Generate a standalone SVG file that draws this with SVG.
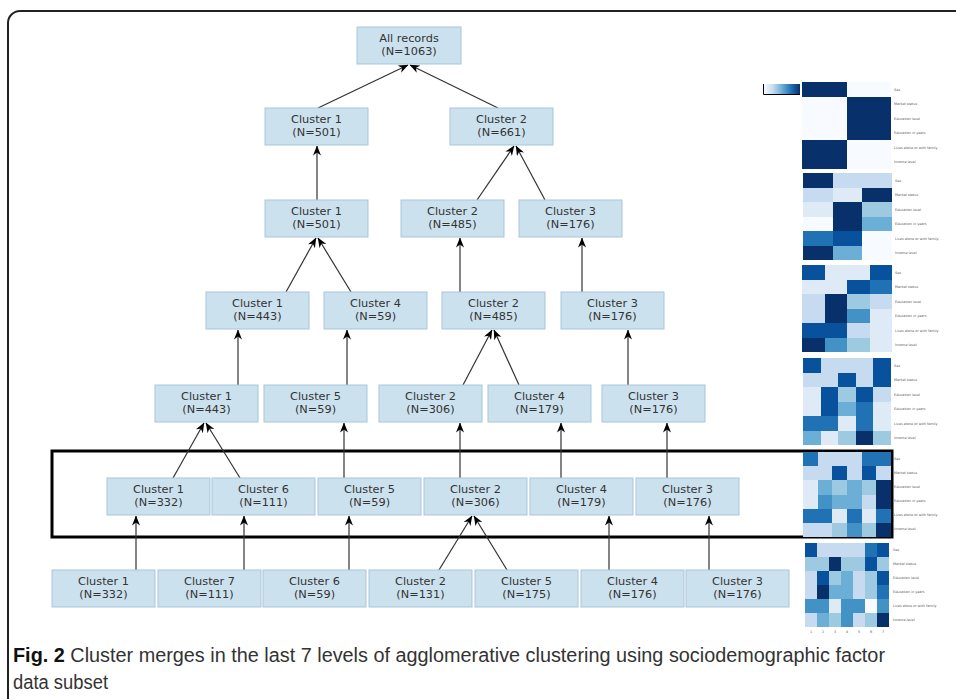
<svg xmlns="http://www.w3.org/2000/svg" width="956" height="699" viewBox="0 0 956 699">
<defs>
<marker id="ah" markerWidth="10" markerHeight="8" refX="9.5" refY="4" orient="auto" markerUnits="userSpaceOnUse">
<path d="M0,0 L10,4 L0,8 L3,4 z" fill="#000"/>
</marker>
<linearGradient id="cb" x1="0" x2="1" y1="0" y2="0">
<stop offset="0" stop-color="#f7fbff"/><stop offset="0.25" stop-color="#c6dbef"/><stop offset="0.5" stop-color="#6baed6"/><stop offset="0.75" stop-color="#2171b5"/><stop offset="1" stop-color="#08306b"/>
</linearGradient>
</defs>
<style>
.box{fill:#cce1ee;stroke:#a9c5d9;stroke-width:1}
.t{font-family:"DejaVu Sans",Verdana,sans-serif;font-size:11.3px;fill:#333;text-anchor:middle}
.c line{stroke:#333;stroke-width:1.2;marker-end:url(#ah)}
.a{fill:#f7fbff}.b{fill:#deebf7}.c1{fill:#c6dbef}.d{fill:#9ecae1}.e{fill:#6baed6}.f{fill:#4292c6}.g{fill:#2171b5}.h{fill:#08519c}.i{fill:#08306b}
.lab{font-family:"DejaVu Sans",sans-serif;font-size:3.4px;fill:#555}
.cap{font-family:"Liberation Sans",Arial,sans-serif;font-size:20px;fill:#333}
</style>
<rect x="0" y="0" width="956" height="699" fill="#fff"/>
<rect x="8" y="11" width="1000" height="730" rx="12" fill="none" stroke="#222" stroke-width="2"/>

<!-- highlight rectangle -->
<rect x="52" y="451" width="840" height="86" fill="none" stroke="#000" stroke-width="3"/>

<g class="c" id="connectors">
<line x1="318" y1="108" x2="408" y2="65"/>
<line x1="498" y1="108" x2="410" y2="65"/>
<line x1="317" y1="200" x2="317" y2="146"/>
<line x1="477" y1="200" x2="514" y2="146"/>
<line x1="545" y1="200" x2="516" y2="146"/>
<line x1="286" y1="292" x2="316" y2="238"/>
<line x1="351" y1="292" x2="318" y2="238"/>
<line x1="460" y1="292" x2="460" y2="238"/>
<line x1="582" y1="292" x2="582" y2="238"/>
<line x1="238" y1="385" x2="238" y2="330"/>
<line x1="347" y1="385" x2="347" y2="330"/>
<line x1="463" y1="385" x2="492" y2="330"/>
<line x1="519" y1="385" x2="494" y2="330"/>
<line x1="628" y1="385" x2="628" y2="330"/>
<line x1="173" y1="478" x2="204" y2="423"/>
<line x1="240" y1="478" x2="206" y2="423"/>
<line x1="344" y1="478" x2="344" y2="423"/>
<line x1="460" y1="478" x2="460" y2="423"/>
<line x1="561" y1="478" x2="561" y2="423"/>
<line x1="667" y1="478" x2="667" y2="423"/>
<line x1="136" y1="570" x2="136" y2="516"/>
<line x1="244" y1="570" x2="244" y2="516"/>
<line x1="349" y1="570" x2="349" y2="516"/>
<line x1="439" y1="570" x2="472" y2="516"/>
<line x1="507" y1="570" x2="474" y2="516"/>
<line x1="609" y1="570" x2="609" y2="516"/>
<line x1="709" y1="570" x2="709" y2="516"/>
</g>

<g id="n0"><rect class="box" x="357" y="27" width="104" height="37"/><text class="t" x="409" y="42">All records</text><text class="t" x="409" y="55">(N=1063)</text></g>

<g id="n1a"><rect class="box" x="265" y="108" width="103" height="37"/><text class="t" x="316.5" y="123">Cluster 1</text><text class="t" x="316.5" y="136">(N=501)</text></g>
<g id="n1b"><rect class="box" x="450" y="108" width="103" height="37"/><text class="t" x="501.5" y="123">Cluster 2</text><text class="t" x="501.5" y="136">(N=661)</text></g>

<g id="n2a"><rect class="box" x="265" y="200" width="103" height="37"/><text class="t" x="316.5" y="215">Cluster 1</text><text class="t" x="316.5" y="228">(N=501)</text></g>
<g id="n2b"><rect class="box" x="401" y="200" width="103" height="37"/><text class="t" x="452.5" y="215">Cluster 2</text><text class="t" x="452.5" y="228">(N=485)</text></g>
<g id="n2c"><rect class="box" x="519" y="200" width="103" height="37"/><text class="t" x="570.5" y="215">Cluster 3</text><text class="t" x="570.5" y="228">(N=176)</text></g>

<g id="n3a"><rect class="box" x="206" y="292" width="103" height="37"/><text class="t" x="257.5" y="307">Cluster 1</text><text class="t" x="257.5" y="320">(N=443)</text></g>
<g id="n3b"><rect class="box" x="324" y="292" width="103" height="37"/><text class="t" x="375.5" y="307">Cluster 4</text><text class="t" x="375.5" y="320">(N=59)</text></g>
<g id="n3c"><rect class="box" x="442" y="292" width="103" height="37"/><text class="t" x="493.5" y="307">Cluster 2</text><text class="t" x="493.5" y="320">(N=485)</text></g>
<g id="n3d"><rect class="box" x="561" y="292" width="103" height="37"/><text class="t" x="612.5" y="307">Cluster 3</text><text class="t" x="612.5" y="320">(N=176)</text></g>

<g id="n4a"><rect class="box" x="155" y="385" width="103" height="37"/><text class="t" x="206.5" y="400">Cluster 1</text><text class="t" x="206.5" y="413">(N=443)</text></g>
<g id="n4b"><rect class="box" x="264" y="385" width="103" height="37"/><text class="t" x="315.5" y="400">Cluster 5</text><text class="t" x="315.5" y="413">(N=59)</text></g>
<g id="n4c"><rect class="box" x="379" y="385" width="103" height="37"/><text class="t" x="430.5" y="400">Cluster 2</text><text class="t" x="430.5" y="413">(N=306)</text></g>
<g id="n4d"><rect class="box" x="488" y="385" width="103" height="37"/><text class="t" x="539.5" y="400">Cluster 4</text><text class="t" x="539.5" y="413">(N=179)</text></g>
<g id="n4e"><rect class="box" x="602" y="385" width="103" height="37"/><text class="t" x="653.5" y="400">Cluster 3</text><text class="t" x="653.5" y="413">(N=176)</text></g>

<g id="n5a"><rect class="box" x="107" y="478" width="103" height="37"/><text class="t" x="158.5" y="493">Cluster 1</text><text class="t" x="158.5" y="506">(N=332)</text></g>
<g id="n5b"><rect class="box" x="212" y="478" width="103" height="37"/><text class="t" x="263.5" y="493">Cluster 6</text><text class="t" x="263.5" y="506">(N=111)</text></g>
<g id="n5c"><rect class="box" x="318" y="478" width="103" height="37"/><text class="t" x="369.5" y="493">Cluster 5</text><text class="t" x="369.5" y="506">(N=59)</text></g>
<g id="n5d"><rect class="box" x="424" y="478" width="103" height="37"/><text class="t" x="475.5" y="493">Cluster 2</text><text class="t" x="475.5" y="506">(N=306)</text></g>
<g id="n5e"><rect class="box" x="530" y="478" width="103" height="37"/><text class="t" x="581.5" y="493">Cluster 4</text><text class="t" x="581.5" y="506">(N=179)</text></g>
<g id="n5f"><rect class="box" x="636" y="478" width="103" height="37"/><text class="t" x="687.5" y="493">Cluster 3</text><text class="t" x="687.5" y="506">(N=176)</text></g>

<g id="n6a"><rect class="box" x="52" y="570" width="103" height="37"/><text class="t" x="103.5" y="585">Cluster 1</text><text class="t" x="103.5" y="598">(N=332)</text></g>
<g id="n6b"><rect class="box" x="158" y="570" width="103" height="37"/><text class="t" x="209.5" y="585">Cluster 7</text><text class="t" x="209.5" y="598">(N=111)</text></g>
<g id="n6c"><rect class="box" x="263" y="570" width="103" height="37"/><text class="t" x="314.5" y="585">Cluster 6</text><text class="t" x="314.5" y="598">(N=59)</text></g>
<g id="n6d"><rect class="box" x="369" y="570" width="103" height="37"/><text class="t" x="420.5" y="585">Cluster 2</text><text class="t" x="420.5" y="598">(N=131)</text></g>
<g id="n6e"><rect class="box" x="475" y="570" width="103" height="37"/><text class="t" x="526.5" y="585">Cluster 5</text><text class="t" x="526.5" y="598">(N=175)</text></g>
<g id="n6f"><rect class="box" x="581" y="570" width="103" height="37"/><text class="t" x="632.5" y="585">Cluster 4</text><text class="t" x="632.5" y="598">(N=176)</text></g>
<g id="n6g"><rect class="box" x="686" y="570" width="103" height="37"/><text class="t" x="737.5" y="585">Cluster 3</text><text class="t" x="737.5" y="598">(N=176)</text></g>

<!-- colorbar -->
<g id="colorbar">
<rect x="764" y="84" width="36" height="10" fill="url(#cb)"/>
<path d="M763.5,84 V94.5 H800" fill="none" stroke="#000" stroke-width="1"/>
</g>

<!-- heatmaps -->
<g id="hm1" transform="translate(802,82) scale(44.5,14.5)" shape-rendering="crispEdges">
<rect class="i" x="0" y="0" width="1" height="1"/><rect class="a" x="1" y="0" width="1" height="1"/>
<rect class="a" x="0" y="1" width="1" height="1"/><rect class="i" x="1" y="1" width="1" height="1"/>
<rect class="a" x="0" y="2" width="1" height="1"/><rect class="i" x="1" y="2" width="1" height="1"/>
<rect class="a" x="0" y="3" width="1" height="1"/><rect class="i" x="1" y="3" width="1" height="1"/>
<rect class="i" x="0" y="4" width="1" height="1"/><rect class="a" x="1" y="4" width="1" height="1"/>
<rect class="i" x="0" y="5" width="1" height="1"/><rect class="a" x="1" y="5" width="1" height="1"/>
</g>
<g id="hm2" transform="translate(803,173) scale(29.667,14.5)" shape-rendering="crispEdges">
<rect class="i" x="0" y="0" width="1" height="1"/><rect class="c1" x="1" y="0" width="1" height="1"/><rect class="c1" x="2" y="0" width="1" height="1"/>
<rect class="c1" x="0" y="1" width="1" height="1"/><rect class="b" x="1" y="1" width="1" height="1"/><rect class="i" x="2" y="1" width="1" height="1"/>
<rect class="b" x="0" y="2" width="1" height="1"/><rect class="i" x="1" y="2" width="1" height="1"/><rect class="d" x="2" y="2" width="1" height="1"/>
<rect class="a" x="0" y="3" width="1" height="1"/><rect class="i" x="1" y="3" width="1" height="1"/><rect class="e" x="2" y="3" width="1" height="1"/>
<rect class="g" x="0" y="4" width="1" height="1"/><rect class="h" x="1" y="4" width="1" height="1"/><rect class="a" x="2" y="4" width="1" height="1"/>
<rect class="i" x="0" y="5" width="1" height="1"/><rect class="e" x="1" y="5" width="1" height="1"/><rect class="a" x="2" y="5" width="1" height="1"/>
</g>
<g id="hm3" transform="translate(802,265) scale(22.5,14.5)" shape-rendering="crispEdges">
<rect class="h" x="0" y="0" width="1" height="1"/><rect class="b" x="1" y="0" width="1" height="1"/><rect class="b" x="2" y="0" width="1" height="1"/><rect class="h" x="3" y="0" width="1" height="1"/>
<rect class="b" x="0" y="1" width="1" height="1"/><rect class="b" x="1" y="1" width="1" height="1"/><rect class="h" x="2" y="1" width="1" height="1"/><rect class="g" x="3" y="1" width="1" height="1"/>
<rect class="c1" x="0" y="2" width="1" height="1"/><rect class="i" x="1" y="2" width="1" height="1"/><rect class="d" x="2" y="2" width="1" height="1"/><rect class="c1" x="3" y="2" width="1" height="1"/>
<rect class="c1" x="0" y="3" width="1" height="1"/><rect class="i" x="1" y="3" width="1" height="1"/><rect class="f" x="2" y="3" width="1" height="1"/><rect class="b" x="3" y="3" width="1" height="1"/>
<rect class="h" x="0" y="4" width="1" height="1"/><rect class="h" x="1" y="4" width="1" height="1"/><rect class="c1" x="2" y="4" width="1" height="1"/><rect class="b" x="3" y="4" width="1" height="1"/>
<rect class="i" x="0" y="5" width="1" height="1"/><rect class="f" x="1" y="5" width="1" height="1"/><rect class="d" x="2" y="5" width="1" height="1"/><rect class="b" x="3" y="5" width="1" height="1"/>
</g>
<g id="hm4" transform="translate(803,358) scale(17.6,14.5)" shape-rendering="crispEdges">
<rect class="h" x="0" y="0" width="1" height="1"/><rect class="c1" x="1" y="0" width="1" height="1"/><rect class="c1" x="2" y="0" width="1" height="1"/><rect class="c1" x="3" y="0" width="1" height="1"/><rect class="h" x="4" y="0" width="1" height="1"/>
<rect class="c1" x="0" y="1" width="1" height="1"/><rect class="c1" x="1" y="1" width="1" height="1"/><rect class="h" x="2" y="1" width="1" height="1"/><rect class="c1" x="3" y="1" width="1" height="1"/><rect class="h" x="4" y="1" width="1" height="1"/>
<rect class="b" x="0" y="2" width="1" height="1"/><rect class="h" x="1" y="2" width="1" height="1"/><rect class="d" x="2" y="2" width="1" height="1"/><rect class="h" x="3" y="2" width="1" height="1"/><rect class="c1" x="4" y="2" width="1" height="1"/>
<rect class="b" x="0" y="3" width="1" height="1"/><rect class="h" x="1" y="3" width="1" height="1"/><rect class="e" x="2" y="3" width="1" height="1"/><rect class="g" x="3" y="3" width="1" height="1"/><rect class="b" x="4" y="3" width="1" height="1"/>
<rect class="g" x="0" y="4" width="1" height="1"/><rect class="g" x="1" y="4" width="1" height="1"/><rect class="b" x="2" y="4" width="1" height="1"/><rect class="g" x="3" y="4" width="1" height="1"/><rect class="b" x="4" y="4" width="1" height="1"/>
<rect class="e" x="0" y="5" width="1" height="1"/><rect class="b" x="1" y="5" width="1" height="1"/><rect class="d" x="2" y="5" width="1" height="1"/><rect class="i" x="3" y="5" width="1" height="1"/><rect class="d" x="4" y="5" width="1" height="1"/>
</g>
<g id="hm5" transform="translate(803,452) scale(14.667,14.17)" shape-rendering="crispEdges">
<rect class="g" x="0" y="0" width="1" height="1"/><rect class="c1" x="1" y="0" width="1" height="1"/><rect class="c1" x="2" y="0" width="1" height="1"/><rect class="c1" x="3" y="0" width="1" height="1"/><rect class="g" x="4" y="0" width="1" height="1"/><rect class="g" x="5" y="0" width="1" height="1"/>
<rect class="c1" x="0" y="1" width="1" height="1"/><rect class="c1" x="1" y="1" width="1" height="1"/><rect class="h" x="2" y="1" width="1" height="1"/><rect class="c1" x="3" y="1" width="1" height="1"/><rect class="h" x="4" y="1" width="1" height="1"/><rect class="c1" x="5" y="1" width="1" height="1"/>
<rect class="b" x="0" y="2" width="1" height="1"/><rect class="e" x="1" y="2" width="1" height="1"/><rect class="d" x="2" y="2" width="1" height="1"/><rect class="e" x="3" y="2" width="1" height="1"/><rect class="d" x="4" y="2" width="1" height="1"/><rect class="i" x="5" y="2" width="1" height="1"/>
<rect class="b" x="0" y="3" width="1" height="1"/><rect class="f" x="1" y="3" width="1" height="1"/><rect class="e" x="2" y="3" width="1" height="1"/><rect class="e" x="3" y="3" width="1" height="1"/><rect class="c1" x="4" y="3" width="1" height="1"/><rect class="i" x="5" y="3" width="1" height="1"/>
<rect class="g" x="0" y="4" width="1" height="1"/><rect class="g" x="1" y="4" width="1" height="1"/><rect class="b" x="2" y="4" width="1" height="1"/><rect class="g" x="3" y="4" width="1" height="1"/><rect class="b" x="4" y="4" width="1" height="1"/><rect class="g" x="5" y="4" width="1" height="1"/>
<rect class="c1" x="0" y="5" width="1" height="1"/><rect class="c1" x="1" y="5" width="1" height="1"/><rect class="d" x="2" y="5" width="1" height="1"/><rect class="f" x="3" y="5" width="1" height="1"/><rect class="d" x="4" y="5" width="1" height="1"/><rect class="i" x="5" y="5" width="1" height="1"/>
</g>
<g id="hm6" transform="translate(805,543) scale(12,14)" shape-rendering="crispEdges">
<rect class="h" x="0" y="0" width="1" height="1"/><rect class="c1" x="1" y="0" width="1" height="1"/><rect class="c1" x="2" y="0" width="1" height="1"/><rect class="c1" x="3" y="0" width="1" height="1"/><rect class="c1" x="4" y="0" width="1" height="1"/><rect class="g" x="5" y="0" width="1" height="1"/><rect class="h" x="6" y="0" width="1" height="1"/>
<rect class="d" x="0" y="1" width="1" height="1"/><rect class="d" x="1" y="1" width="1" height="1"/><rect class="i" x="2" y="1" width="1" height="1"/><rect class="d" x="3" y="1" width="1" height="1"/><rect class="d" x="4" y="1" width="1" height="1"/><rect class="h" x="5" y="1" width="1" height="1"/><rect class="d" x="6" y="1" width="1" height="1"/>
<rect class="c1" x="0" y="2" width="1" height="1"/><rect class="h" x="1" y="2" width="1" height="1"/><rect class="d" x="2" y="2" width="1" height="1"/><rect class="e" x="3" y="2" width="1" height="1"/><rect class="c1" x="4" y="2" width="1" height="1"/><rect class="d" x="5" y="2" width="1" height="1"/><rect class="h" x="6" y="2" width="1" height="1"/>
<rect class="c1" x="0" y="3" width="1" height="1"/><rect class="i" x="1" y="3" width="1" height="1"/><rect class="e" x="2" y="3" width="1" height="1"/><rect class="e" x="3" y="3" width="1" height="1"/><rect class="c1" x="4" y="3" width="1" height="1"/><rect class="d" x="5" y="3" width="1" height="1"/><rect class="g" x="6" y="3" width="1" height="1"/>
<rect class="f" x="0" y="4" width="1" height="1"/><rect class="f" x="1" y="4" width="1" height="1"/><rect class="b" x="2" y="4" width="1" height="1"/><rect class="f" x="3" y="4" width="1" height="1"/><rect class="f" x="4" y="4" width="1" height="1"/><rect class="a" x="5" y="4" width="1" height="1"/><rect class="f" x="6" y="4" width="1" height="1"/>
<rect class="c1" x="0" y="5" width="1" height="1"/><rect class="e" x="1" y="5" width="1" height="1"/><rect class="d" x="2" y="5" width="1" height="1"/><rect class="f" x="3" y="5" width="1" height="1"/><rect class="c1" x="4" y="5" width="1" height="1"/><rect class="d" x="5" y="5" width="1" height="1"/><rect class="i" x="6" y="5" width="1" height="1"/>
</g>

<!-- heatmap row labels -->
<g id="hm-labels" class="lab">
<text x="894" y="90.5">Sex</text><text x="894" y="105">Marital status</text><text x="894" y="119.5">Education level</text><text x="894" y="134">Education in years</text><text x="894" y="148.5">Lives alone or with family</text><text x="894" y="163">Income level</text>
<text x="895" y="181.5">Sex</text><text x="895" y="196">Marital status</text><text x="895" y="210.5">Education level</text><text x="895" y="225">Education in years</text><text x="895" y="239.5">Lives alone or with family</text><text x="895" y="254">Income level</text>
<text x="895" y="273.5">Sex</text><text x="895" y="288">Marital status</text><text x="895" y="302.5">Education level</text><text x="895" y="317">Education in years</text><text x="895" y="331.5">Lives alone or with family</text><text x="895" y="346">Income level</text>
<text x="894" y="366.5">Sex</text><text x="894" y="381">Marital status</text><text x="894" y="395.5">Education level</text><text x="894" y="410">Education in years</text><text x="894" y="424.5">Lives alone or with family</text><text x="894" y="439">Income level</text>
<text x="894" y="460">Sex</text><text x="894" y="474">Marital status</text><text x="894" y="488">Education level</text><text x="894" y="502">Education in years</text><text x="894" y="516">Lives alone or with family</text><text x="894" y="530">Income level</text>
<text x="893" y="551">Sex</text><text x="893" y="565">Marital status</text><text x="893" y="579">Education level</text><text x="893" y="593">Education in years</text><text x="893" y="607">Lives alone or with family</text><text x="893" y="621">Income level</text>
</g>
<g id="hm-cols" class="lab" text-anchor="middle">
<text x="811" y="633">1</text><text x="823" y="633">2</text><text x="835" y="633">3</text><text x="847" y="633">4</text><text x="859" y="633">5</text><text x="871" y="633">6</text><text x="883" y="633">7</text>
</g>

<!-- caption -->
<g id="caption">
<text class="cap" x="13" y="662" textLength="872" lengthAdjust="spacingAndGlyphs"><tspan font-weight="bold" fill="#111">Fig. 2</tspan> Cluster merges in the last 7 levels of agglomerative clustering using sociodemographic factor</text>
<text class="cap" x="13" y="689" textLength="95" lengthAdjust="spacingAndGlyphs">data subset</text>
</g>
</svg>
